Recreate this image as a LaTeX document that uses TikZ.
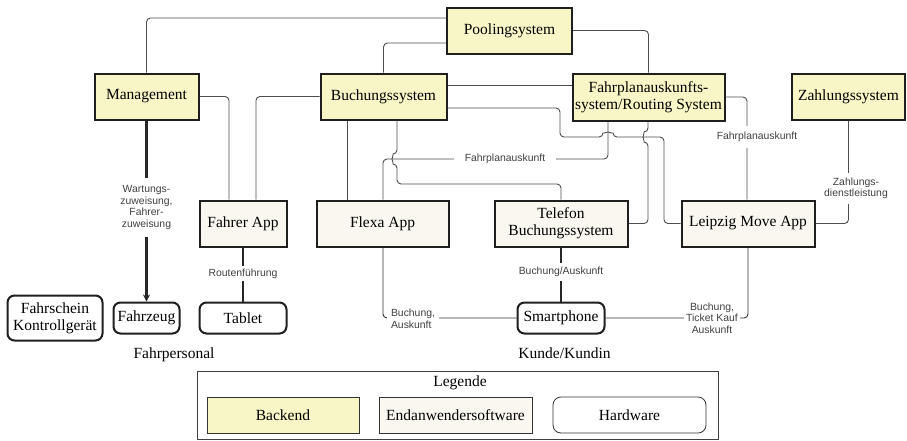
\documentclass[tikz,border=0pt]{standalone}
\usepackage{fontspec}
\setmainfont{Liberation Serif}
\newfontfamily\labelfont{Liberation Sans}
\usetikzlibrary{arrows.meta}
\definecolor{backc}{HTML}{F8F5C6}
\definecolor{appc}{HTML}{FAF7F0}
\begin{document}
\begin{tikzpicture}[x=1pt,y=-1pt,
 every node/.style={font=\fontsize{15.5}{17}\selectfont},
 sys/.style={draw=black!88, line width=2pt, fill=backc, inner sep=0pt, align=center},
 app/.style={draw=black!88, line width=2pt, fill=appc, inner sep=0pt, align=center},
 hw/.style={draw=black!88, line width=2pt, rounded corners=7pt, fill=white, inner sep=0pt, align=center},
 conn/.style={draw=black!70, line width=0.9pt, rounded corners=4pt},
 strong/.style={draw=black!85, line width=2.1pt},
 lab/.style={font=\labelfont\fontsize{10.4}{11.5}\selectfont, text=black!75, fill=white, inner sep=2pt, align=center},
 plain/.style={inner sep=0pt},
]
\useasboundingbox (0,0) rectangle (907,440);

% Backend systems
\node[sys, minimum width=125, minimum height=46] (pool) at (509.5,30.5) {Poolingsystem};
\node[sys, minimum width=104, minimum height=46] (mgmt) at (146.5,96.5) {Management};
\node[sys, minimum width=126, minimum height=46] (buch) at (383.5,96.5) {Buchungssystem};
\node[sys, minimum width=152, minimum height=47] (fahrplan) at (648.5,97) {Fahrplanauskunfts-\\system/Routing System};
\node[sys, minimum width=113, minimum height=46] (zahl) at (848.5,96.5) {Zahlungssystem};

% End-user software
\node[app, minimum width=87, minimum height=46] (fapp) at (243,223.5) {Fahrer App};
\node[app, minimum width=132, minimum height=46] (flexa) at (382.5,223.5) {Flexa App};
\node[app, minimum width=133, minimum height=46] (tel) at (561,223.5) {Telefon\\Buchungssystem};
\node[app, minimum width=133, minimum height=46] (lmove) at (748,223.5) {Leipzig Move App};

% Hardware
\node[hw, minimum width=95, minimum height=45] (fsk) at (55,318) {Fahrschein\\Kontrollgerät};
\node[hw, minimum width=66, minimum height=31] (fzg) at (146.5,318) {Fahrzeug};
\node[hw, minimum width=87, minimum height=31] (tablet) at (243,318) {Tablet};
\node[hw, minimum width=87, minimum height=31] (smart) at (561,318) {Smartphone};

% Group captions
\node[plain] (fp) at (174,355) {Fahrpersonal};
\node[plain] (kk) at (564.5,353) {Kunde/Kundin};

% Connectors
\draw[conn] (mgmt.north) |- (pool.west |- 0,18);
\draw[conn] (buch.north) |- (pool.west |- 0,43);
\draw[conn] (pool.east) -| (fahrplan.north);
\draw[conn] (mgmt.east) -| (fapp.north -| 229,0);
\draw[conn] (buch.west) -| (fapp.north -| 256,0);
\draw[conn] (buch.east |- 0,85) -- (fahrplan.west |- 0,85);
\draw[conn] (buch.east |- 0,108) -| (560,137) -- (603,137) arc[start angle=180, end angle=360, radius=5] -- (664,137) |- (lmove.west);
\draw[conn] (fahrplan.south -| 608,0) |- (383,159) -- (flexa.north -| 383,0);
\node[lab, inner xsep=11pt] (l1) at (505,159) {Fahrplanauskunft};
\draw[conn] (buch.south -| 347,0) -- (flexa.north -| 347,0);
\draw[conn] (buch.south -| 397,0) -- (397,154) arc[start angle=270, end angle=90, radius=5] |- (561,184) -- (tel.north);
\draw[conn] (fahrplan.south -| 648,0) -- (648,132) arc[start angle=270, end angle=90, radius=5] |- (tel.east);
\draw[conn] (fahrplan.east) -| (lmove.north -| 747,0);
\node[lab, inner ysep=6pt, inner xsep=1pt] (l2) at (757,137) {Fahrplanauskunft};
\draw[conn] (zahl.south) |- (lmove.east);
\node[lab, inner ysep=5pt, inner xsep=1pt] (l3) at (856,188.5) {Zahlungs-\\dienstleistung};
\draw[strong, -{Stealth[length=7pt, width=7pt]}] (mgmt.south) -- (fzg.north);
\node[lab, inner ysep=8pt, inner xsep=1pt] (l4) at (146.5,207.5) {Wartungs-\\zuweisung,\\Fahrer-\\zuweisung};
\draw[strong] (fapp.south) -- (tablet.north);
\node[lab, inner ysep=3pt, inner xsep=1pt] (l5) at (243,273.5) {Routenführung};
\draw[strong] (tel.south) -- (smart.north);
\node[lab, inner ysep=4pt, inner xsep=1pt] (l6) at (561,272) {Buchung/Auskunft};
\draw[conn, draw=black!80] (flexa.south -| 383,0) |- (smart.west);
\node[lab, align=left, inner xsep=4pt, inner ysep=1pt] (l7) at (413,319) {Buchung,\\Auskunft};
\draw[conn, draw=black!80] (lmove.south) |- (smart.east);
\node[lab, inner xsep=2pt, inner ysep=1pt] (l8) at (712,318) {Buchung,\\Ticket Kauf\\Auskunft};

% Legend
\node[draw=black!75, line width=0.8pt, minimum width=521, minimum height=68, inner sep=0pt] (leg) at (457.5,405) {};
\node[plain] (legt) at (460,383) {Legende};
\node[draw=black!80, line width=0.8pt, fill=backc, minimum width=152, minimum height=36, inner sep=0pt] (lb) at (283,415) {Backend};
\node[draw=black!80, line width=0.8pt, fill=appc, minimum width=153, minimum height=36, inner sep=0pt] (le) at (455.5,415) {Endanwendersoftware};
\node[draw=black!80, line width=0.8pt, fill=white, rounded corners=8pt, minimum width=153, minimum height=36, inner sep=0pt] (lh) at (629.5,415) {Hardware};
\end{tikzpicture}
\end{document}
